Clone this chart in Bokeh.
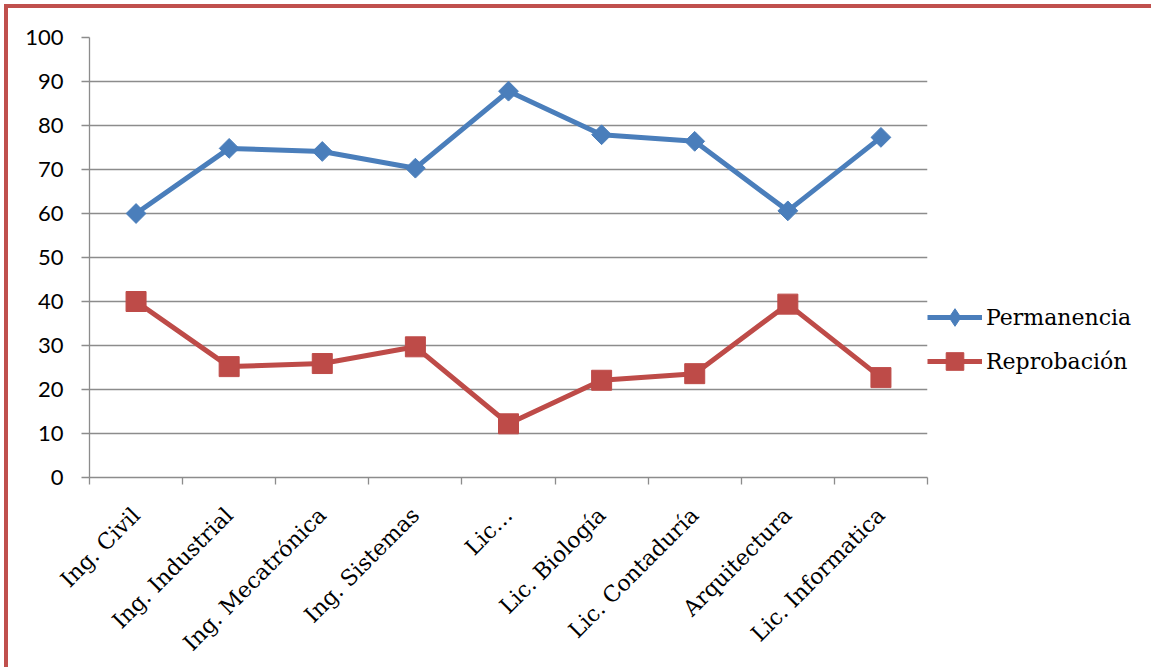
import math
from bokeh.plotting import figure
from bokeh.models import Range1d, FixedTicker, Legend, LegendItem
from bokeh.embed import file_html
from bokeh.resources import INLINE

categories = ["Ing. Civil", "Ing. Industrial", "Ing. Mecatrónica", "Ing. Sistemas", "Lic…",
              "Lic. Biología", "Lic. Contaduría", "Arquitectura", "Lic. Informatica"]
permanencia = [60.0, 74.8, 74.1, 70.3, 87.8, 77.9, 76.4, 60.6, 77.3]
reprobacion = [40.0, 25.2, 25.9, 29.7, 12.2, 22.1, 23.6, 39.4, 22.7]
y_ticks = [0, 10, 20, 30, 40, 50, 60, 70, 80, 90, 100]

xs = [i + 0.5 for i in range(len(categories))]

GRAY = "#8C8C8C"
BLUE = "#4A7EBB"
RED = "#BE4B48"

p = figure(frame_width=838, frame_height=440,
           min_border_left=81, min_border_top=29, min_border_right=0, min_border_bottom=187,
           x_range=Range1d(0, len(categories)), y_range=Range1d(0, 100),
           output_backend="svg", toolbar_location=None)
p.styles = {"border-left": "4px solid #C0504D", "border-top": "4px solid #C0504D",
            "margin-left": "4px", "margin-top": "4px"}
p.outline_line_color = None
p.background_fill_color = "white"
p.border_fill_color = "white"

# axes
p.yaxis.ticker = FixedTicker(ticks=y_ticks)
p.yaxis.major_tick_out = 8
p.yaxis.major_tick_in = 0
p.yaxis.minor_tick_line_color = None
p.yaxis.axis_line_color = GRAY
p.yaxis.major_tick_line_color = GRAY
p.yaxis.axis_line_width = 1.3
p.yaxis.major_tick_line_width = 1.3
p.yaxis.major_label_text_font = "Lato"
p.yaxis.major_label_text_font_size = "22px"
p.yaxis.major_label_text_color = "black"
p.yaxis.major_label_standoff = 18

p.xaxis.ticker = FixedTicker(ticks=xs, minor_ticks=list(range(len(categories) + 1)))
p.xaxis.major_label_overrides = {x: c for x, c in zip(xs, categories)}
p.xaxis.major_tick_line_color = None
p.xaxis.minor_tick_line_color = GRAY
p.xaxis.minor_tick_out = 7
p.xaxis.minor_tick_in = 0
p.xaxis.minor_tick_line_width = 1.3
p.xaxis.axis_line_color = GRAY
p.xaxis.axis_line_width = 1.3
p.xaxis.major_label_orientation = math.pi / 4
p.xaxis.major_label_text_font = "DejaVu Serif"
p.xaxis.major_label_text_font_size = "22px"
p.xaxis.major_label_text_color = "black"
p.xaxis.major_label_standoff = 27

p.xgrid.grid_line_color = None
p.ygrid.ticker = FixedTicker(ticks=y_ticks)
p.ygrid.grid_line_color = GRAY
p.ygrid.grid_line_width = 1.3

l1 = p.line(xs, permanencia, line_color=BLUE, line_width=5)
# diamond glyph used for the legend (hidden under the rotated squares)
d1 = p.scatter(xs, permanencia, marker="diamond", size=10, fill_color=BLUE, line_color=BLUE)
s1 = p.scatter(xs, permanencia, marker="square", angle=math.pi / 4, size=14,
               fill_color=BLUE, line_color=BLUE)
l2 = p.line(xs, reprobacion, line_color=RED, line_width=5)
s2 = p.scatter(xs, reprobacion, marker="square", size=20, fill_color=RED, line_color=RED)

legend = Legend(items=[LegendItem(label="Permanencia", renderers=[l1, d1]),
                       LegendItem(label="Reprobación", renderers=[l2, s2])],
                location=(0, 94))
legend.padding = 0
legend.margin = 0
legend.spacing = 0
legend.glyph_width = 55
legend.glyph_height = 44
legend.label_height = 44
legend.label_standoff = 4
legend.border_line_color = None
legend.background_fill_alpha = 0
legend.label_text_font = "DejaVu Serif"
legend.label_text_font_size = "22px"
legend.label_text_color = "black"
p.add_layout(legend, "right")

open("out.html", "w").write(file_html(p, INLINE))
